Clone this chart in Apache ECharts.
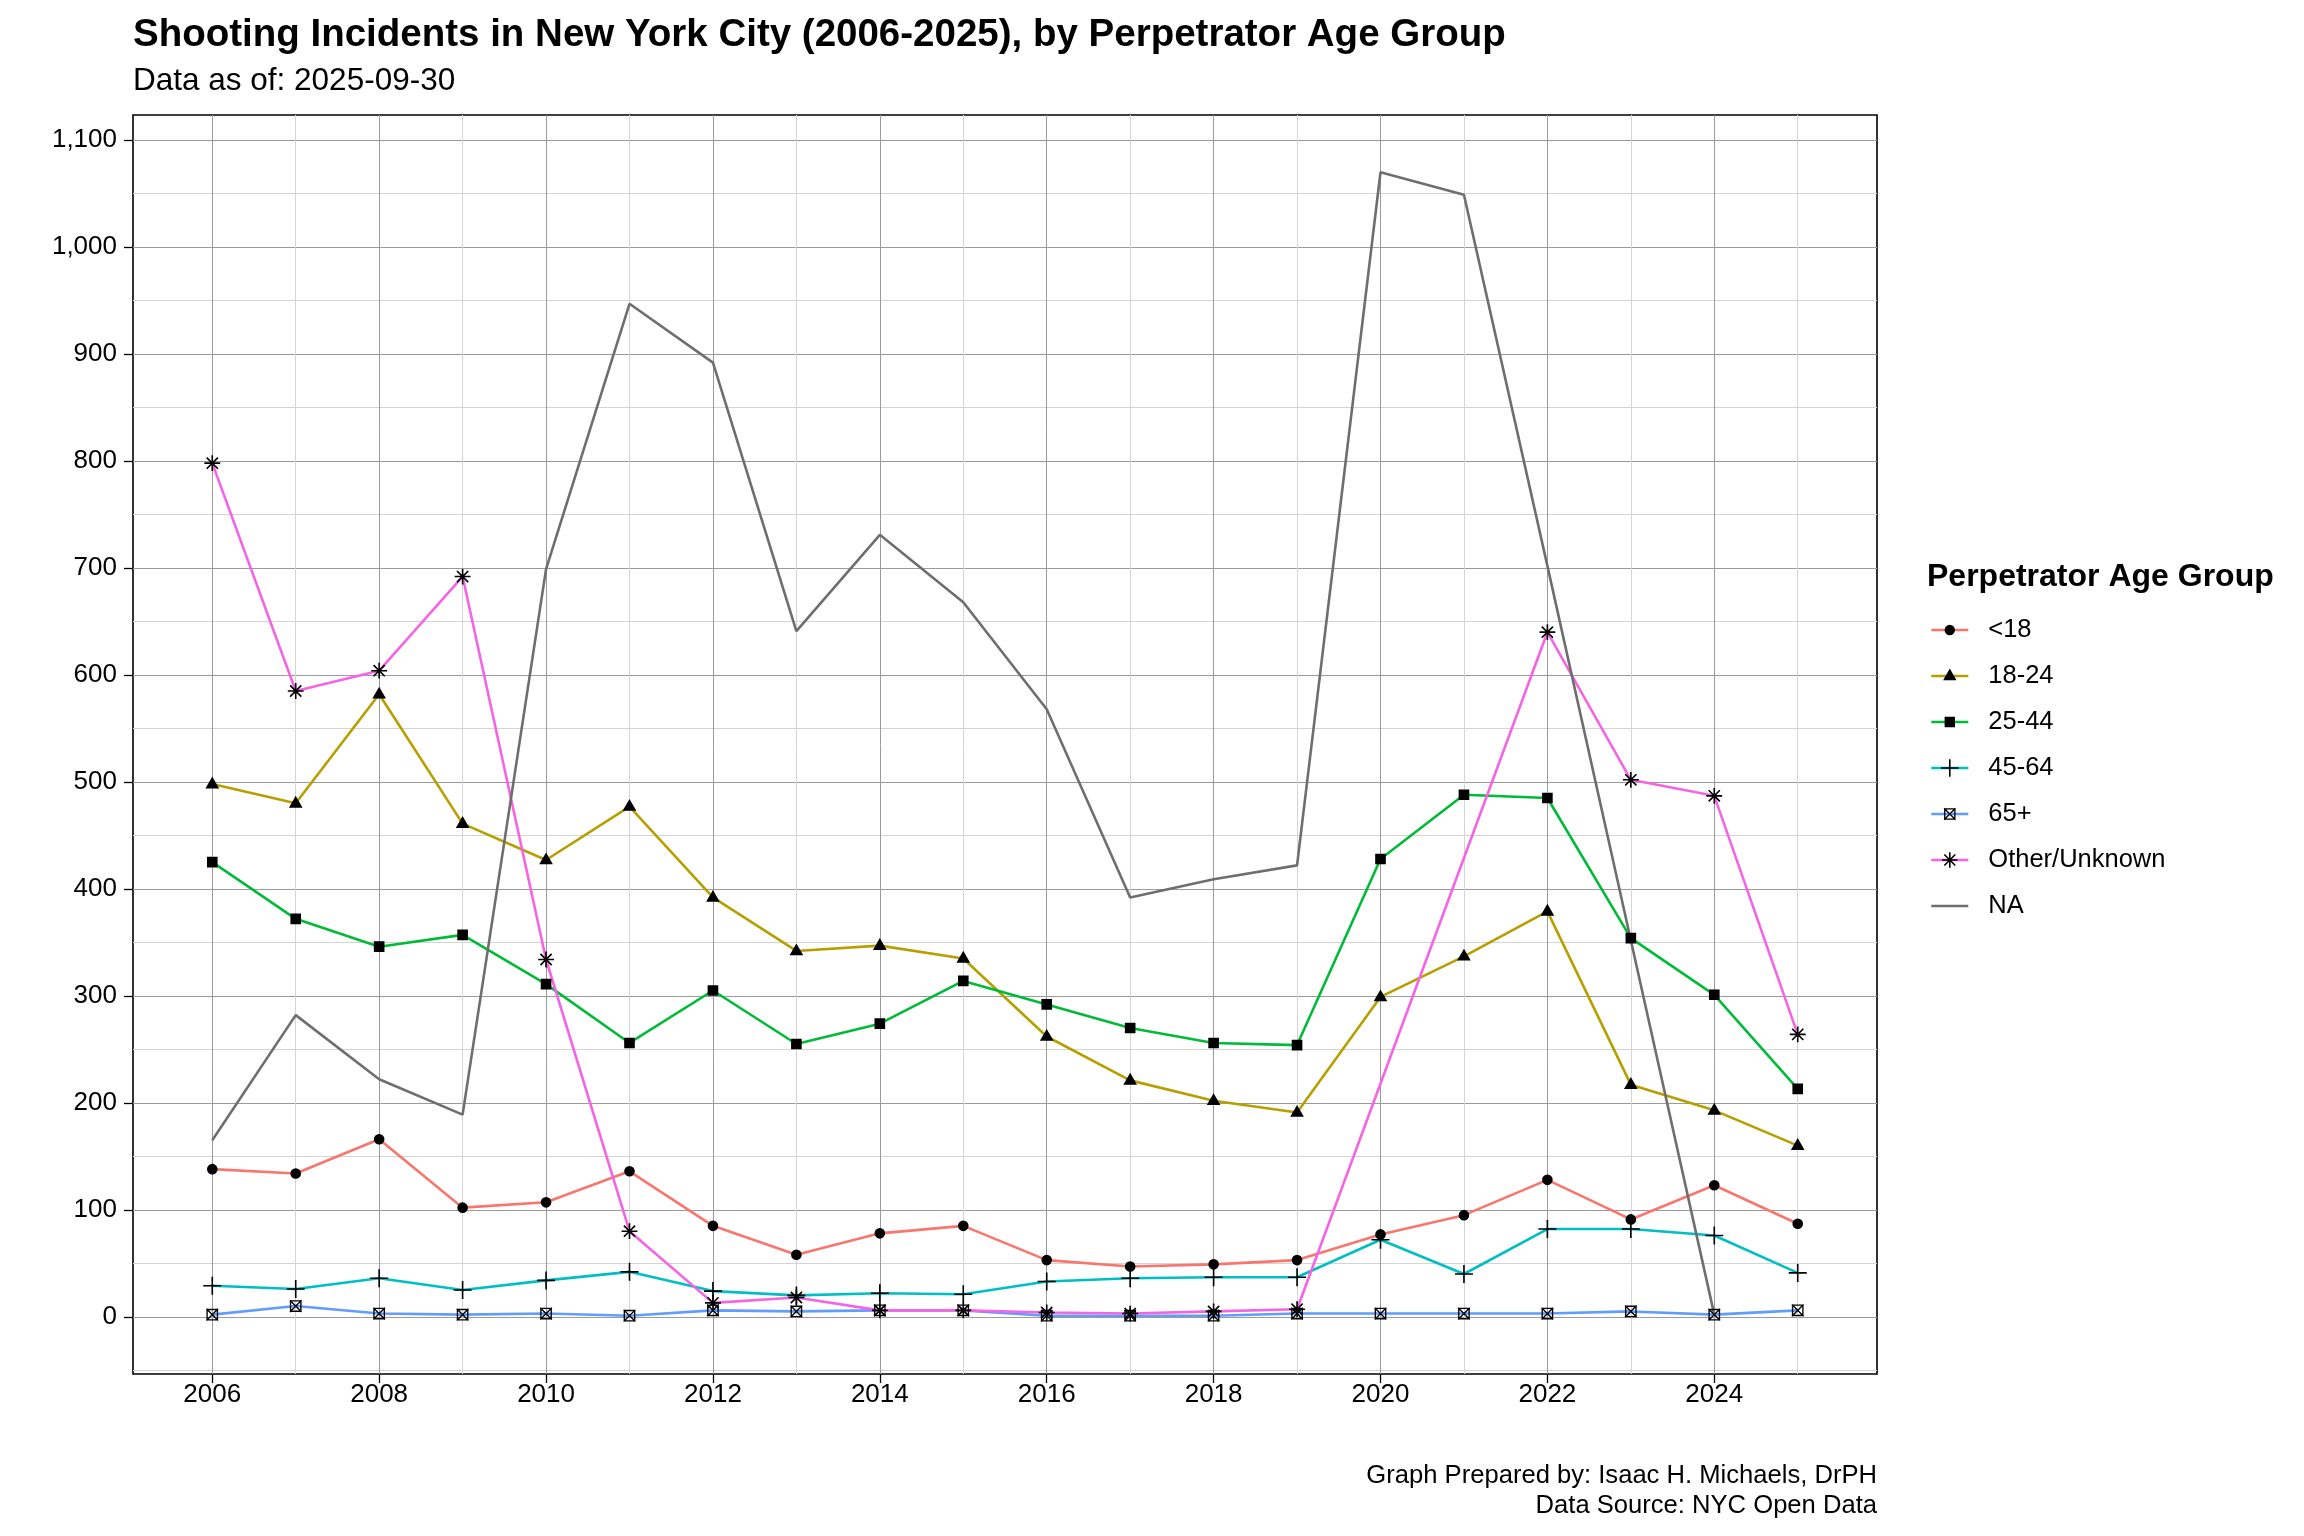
<!DOCTYPE html>
<html>
<head>
<meta charset="utf-8">
<script src="https://cdn.jsdelivr.net/npm/echarts@6/dist/echarts.min.js"></script>
<style>
html,body{margin:0;padding:0;background:#fff;}
#chart{width:2304px;height:1536px;}
</style>
</head>
<body>
<div id="chart"></div>
<script>
// ---------------- data ----------------
const years = [2006,2007,2008,2009,2010,2011,2012,2013,2014,2015,2016,2017,2018,2019,2020,2021,2022,2023,2024,2025];
const under18   = [138,134,166,102,107,136, 85, 58, 78, 85, 53, 47, 49, 53, 77, 95,128, 91,123, 87];
const age18to24 = [498,480,582,461,427,477,392,342,347,335,262,221,202,191,299,337,379,217,193,160];
const age25to44 = [425,372,346,357,311,256,305,255,274,314,292,270,256,254,428,488,485,354,301,213];
const age45to64 = [ 29, 26, 36, 25, 34, 42, 24, 20, 22, 21, 33, 36, 37, 37, 72, 40, 82, 82, 76, 41];
const age65plus = [  2, 10,  3,  2,  3,  1,  6,  5,  6,  6,  1,  1,  1,  3,  3,  3,  3,  5,  2,  6];
const otherUnknown = [798,585,604,692,334, 80, 13, 18,  6,  6,  4,  3,  5,  7,null,null,640,502,487,264];
const naGroup   = [165,282,222,189,699,947,892,641,731,668,568,392,409,422,1070,1049,702,352,2,null];

const seriesNames = ['<18','18-24','25-44','45-64','65+','Other/Unknown','NA'];
const seriesValues = [under18, age18to24, age25to44, age45to64, age65plus, otherUnknown, naGroup];

const xTickValues = [2006,2008,2010,2012,2014,2016,2018,2020,2022,2024];
const yTickValues = [0,100,200,300,400,500,600,700,800,900,1000,1100];

const titleText = 'Shooting Incidents in New York City (2006-2025), by Perpetrator Age Group';
const subtitleText = 'Data as of: 2025-09-30';
const captionLines = ['Graph Prepared by: Isaac H. Michaels, DrPH', 'Data Source: NYC Open Data'];
const legendTitleText = 'Perpetrator Age Group';

// ---------------- styles ----------------
const FONT = '"Liberation Sans", Arial, Helvetica, sans-serif';
const lineColors = ['#F8766D','#B79F00','#00BA38','#00BFC4','#619CFF','#F564E3','#6e6e6e'];

// marker shapes (20x20 box, bounding points keep the box size fixed)
const BB = 'M0,0 L0.01,0 Z M20,20 L19.99,20 Z ';
const SYM_CIRCLE = 'path://' + BB + 'M4.1,10 A5.9,5.9 0 1 0 15.9,10 A5.9,5.9 0 1 0 4.1,10 Z';
const SYM_TRIANGLE = 'path://' + BB + 'M10,1.6 L17.6,14.8 L2.4,14.8 Z';
const SYM_SQUARE = 'path://' + BB + 'M4.1,4.1 H15.9 V15.9 H4.1 Z';
const SYM_PLUS = 'path://' + BB + 'M9.1,0 H10.9 V9.1 H20 V10.9 H10.9 V20 H9.1 V10.9 H0 V9.1 H9.1 Z';
const SYM_BOXX = 'path://' + BB + 'M3.5,3.5 H16.5 V16.5 H3.5 Z M5,5 V15 H15 V5 Z ' +
  'M4.03,2.97 L17.03,15.97 L15.97,17.03 L2.97,4.03 Z M15.97,2.97 L17.03,4.03 L4.03,17.03 L2.97,15.97 Z';
const SYM_STAR = 'path://' + BB + 'M9.1,1.2 H10.9 V9.1 H18.8 V10.9 H10.9 V18.8 H9.1 V10.9 H1.2 V9.1 H9.1 Z ' +
  'M4.42,3.14 L16.86,15.58 L15.58,16.86 L3.14,4.42 Z M15.58,3.14 L16.86,4.42 L4.42,16.86 L3.14,15.58 Z';
const symbols = [SYM_CIRCLE, SYM_TRIANGLE, SYM_SQUARE, SYM_PLUS, SYM_BOXX, SYM_STAR, 'none'];
const NA_ICON = 'path://M0,0 L0.01,0 Z M37,22 L36.99,22 Z M0,9.7 H37 V12.3 H0 Z';

// ---------------- series ----------------
const series = [];
seriesNames.forEach((name, i) => {
  const pairs = years.map((y, j) => [y, seriesValues[i][j]]);
  series.push({
    type: 'line', name: name, data: pairs,
    symbol: symbols[i], showSymbol: false, connectNulls: true,
    lineStyle: { color: lineColors[i], width: 2.6 },
    itemStyle: { color: '#000' },
    z: 2, silent: true, animation: false
  });
});
seriesNames.forEach((name, i) => {
  if (symbols[i] === 'none') return;
  const pts = years.map((y, j) => [y, seriesValues[i][j]]).filter(p => p[1] !== null);
  series.push({
    type: 'scatter', name: name, data: pts,
    symbol: symbols[i], symbolSize: 18,
    itemStyle: { color: '#000', opacity: 1 },
    z: 3, silent: true, animation: false
  });
});

const chart = echarts.init(document.getElementById('chart'), null, { renderer: 'canvas' });
chart.setOption({
  backgroundColor: '#ffffff',
  animation: false,
  title: [
    { text: titleText, left: 133, top: 16, padding: 0,
      textStyle: { fontFamily: FONT, fontSize: 38.5, fontWeight: 'bold', color: '#000', lineHeight: 38 } },
    { text: subtitleText, left: 133, top: 65, padding: 0,
      textStyle: { fontFamily: FONT, fontSize: 31.5, fontWeight: 'normal', color: '#000', lineHeight: 32 } }
  ],
  graphic: [
    { type: 'text', right: 427, top: 1463,
      style: { text: captionLines[0], fontFamily: FONT, fontSize: 25.6, lineHeight: 26, fill: '#000' } },
    { type: 'text', right: 427, top: 1493,
      style: { text: captionLines[1], fontFamily: FONT, fontSize: 25.6, lineHeight: 26, fill: '#000' } },
    { type: 'text', left: 1927, top: 561,
      style: { text: legendTitleText, fontFamily: FONT, fontSize: 32, fontWeight: 'bold', lineHeight: 32, fill: '#000' } }
  ],
  legend: {
    orient: 'vertical', left: 1930, top: 617, padding: 0,
    itemWidth: 37, itemHeight: 22, itemGap: 20,
    selectedMode: false,
    data: seriesNames.map((n, i) => n === 'NA'
      ? { name: n, icon: NA_ICON, itemStyle: { color: lineColors[i] } }
      : { name: n }),
    itemStyle: { color: '#000', borderWidth: 0 },
    lineStyle: { width: 2.6 },
    textStyle: { fontFamily: FONT, fontSize: 25.5, color: '#000', lineHeight: 26, padding: [0, 0, 0, 15] }
  },
  grid: {
    left: 133, right: 427, top: 115, bottom: 162,
    show: true, borderColor: '#000', borderWidth: 1.6, backgroundColor: '#fff',
    containLabel: false, outerBoundsMode: 'none'
  },
  xAxis: {
    type: 'value', min: 2005.05, max: 2025.95, minInterval: 2, maxInterval: 2, splitNumber: 10,
    axisLine: { show: false, onZero: false },
    axisTick: { show: true, length: 9, lineStyle: { color: '#000', width: 1.3 }, customValues: xTickValues },
    axisLabel: {
      customValues: xTickValues, margin: 8, fontFamily: FONT, fontSize: 26, color: '#000',
      formatter: v => (Math.abs(v - Math.round(v)) < 1e-6 && Math.round(v) % 2 === 0) ? String(Math.round(v)) : ''
    },
    splitLine: { show: true, lineStyle: { color: '#9a9a9a', width: 1 } },
    minorTick: { show: false, splitNumber: 2 },
    minorSplitLine: { show: true, lineStyle: { color: '#d4d4d4', width: 1 } }
  },
  yAxis: {
    type: 'value', min: -53.5, max: 1123.5, minInterval: 100, maxInterval: 100, splitNumber: 12,
    axisLine: { show: false, onZero: false },
    axisTick: { show: true, length: 9, lineStyle: { color: '#000', width: 1.3 }, customValues: yTickValues },
    axisLabel: {
      customValues: yTickValues, margin: 16, fontFamily: FONT, fontSize: 26, color: '#000',
      formatter: v => (Math.abs(v - Math.round(v)) < 1e-6 && Math.round(v) % 100 === 0) ? Math.round(v).toLocaleString('en-US') : ''
    },
    splitLine: { show: true, lineStyle: { color: '#9a9a9a', width: 1 } },
    minorTick: { show: false, splitNumber: 2 },
    minorSplitLine: { show: true, lineStyle: { color: '#d4d4d4', width: 1 } }
  },
  series: series
});
</script>
</body>
</html>
